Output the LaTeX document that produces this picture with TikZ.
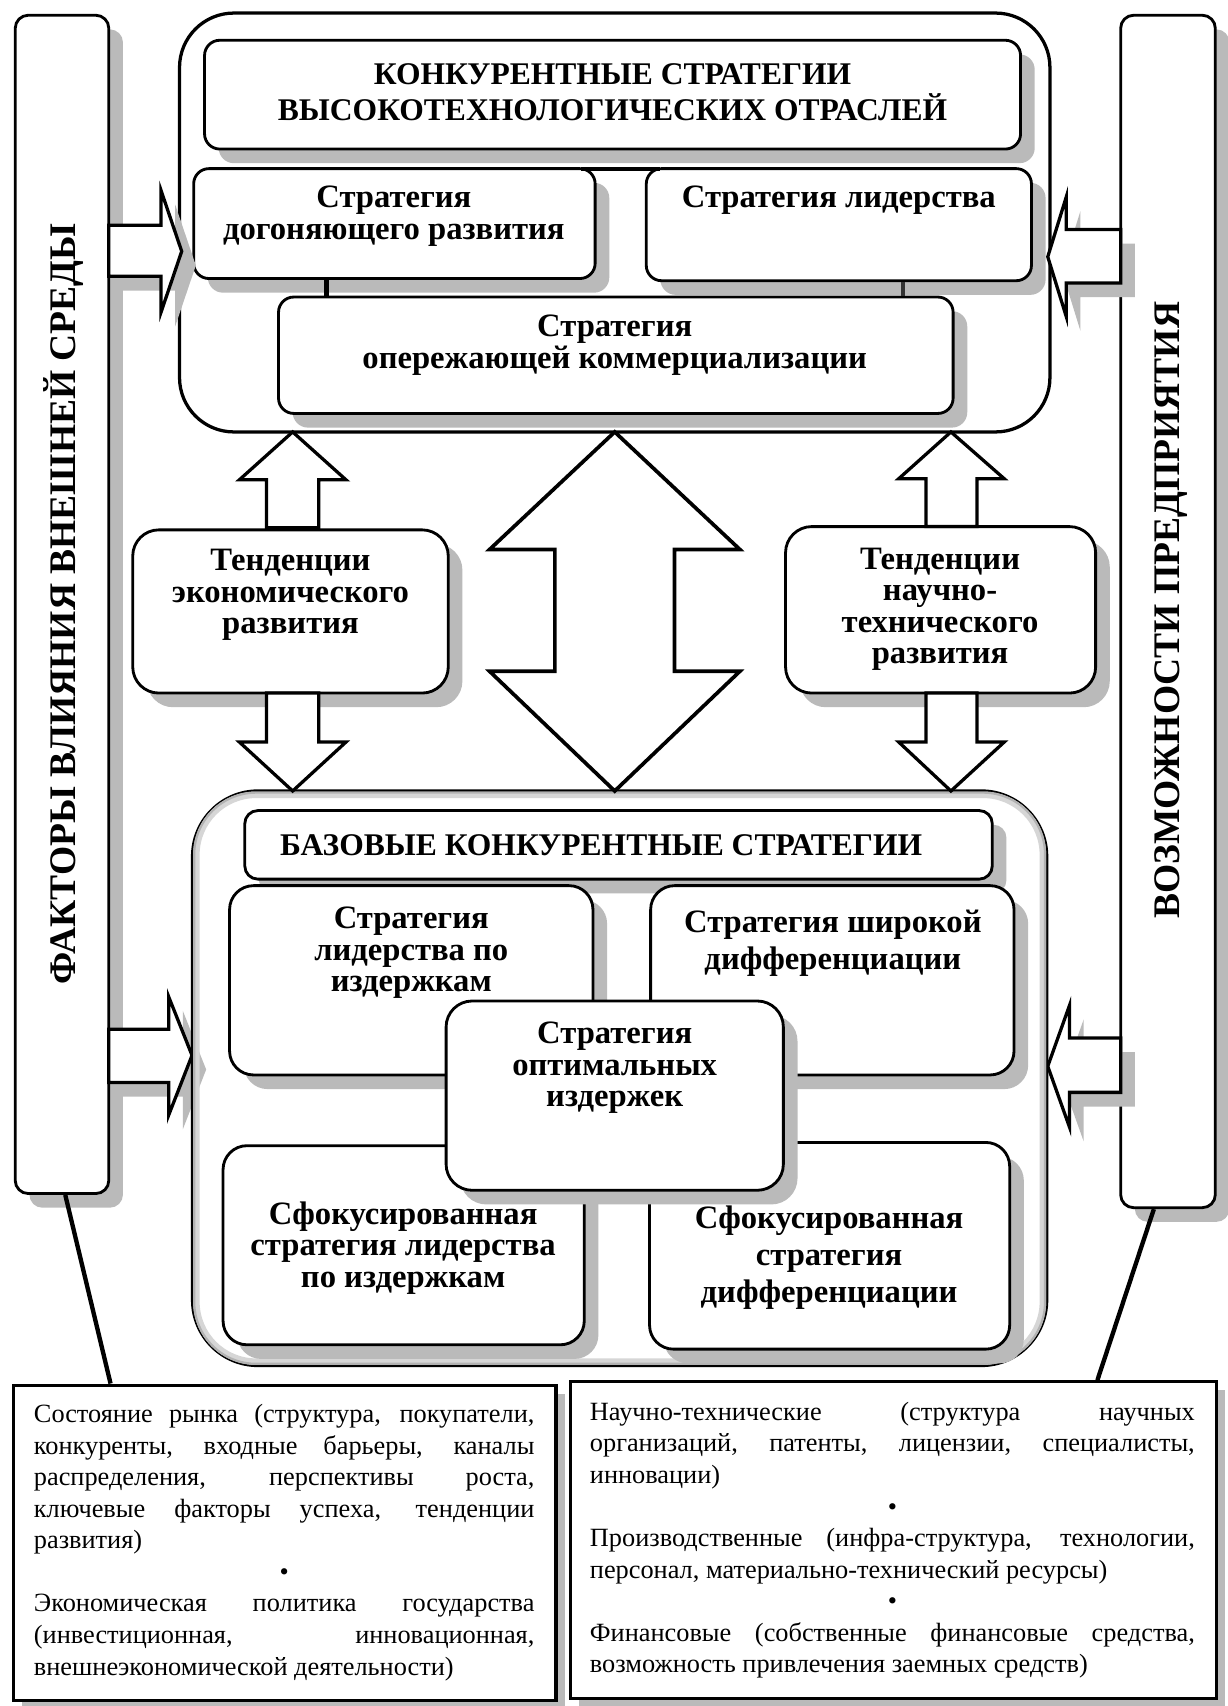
\documentclass[tikz,border=0pt]{standalone}
\usepackage{fontspec}
\setmainfont{Liberation Serif}
\usetikzlibrary{shadows,calc}
\newlength{\txw}
\newcommand{\sline}[1]{\makebox[\txw][s]{#1}\par}
\newcommand{\lline}[1]{\makebox[\txw][l]{#1}\par}
\newcommand{\bline}{\makebox[\txw][c]{•}\par}
\begin{document}
\begin{tikzpicture}[x=1pt,y=-1pt,
  shd/.style={drop shadow={shadow xshift=13pt,shadow yshift=-13pt,fill=black!27,opacity=1}},
  tshd/.style={drop shadow={shadow xshift=8pt,shadow yshift=-8pt,fill=black!27,opacity=1}},
  rbox/.style={draw,line width=2.6pt,fill=white,rounded corners=#1,shd,inner sep=0pt},
  rbox/.default=14pt,
  tbox/.style={draw,line width=2.8pt,fill=white,tshd,inner sep=0pt},
  barrow/.style={draw,fill=white,line width=3pt,line join=miter},
  conn/.style={line width=4pt},
  btxt/.style={font=\fontsize{30}{29}\selectfont\bfseries,align=center,inner sep=0pt},
  wtxt/.style={font=\fontsize{30}{34}\selectfont\bfseries,align=center,inner sep=0pt},
  ttxt/.style={font=\fontsize{29}{33}\selectfont\bfseries,align=center,inner sep=0pt},
  rtxt/.style={font=\fontsize{34.5}{36}\selectfont\bfseries,rotate=90,inner sep=0pt},
  body/.style={font=\fontsize{24.2}{29}\selectfont,inner sep=0pt,anchor=base west}
]
\useasboundingbox[fill=white] (0,0) rectangle (1128,1568);

% side bars
\node[rbox=12pt,minimum width=86pt,minimum height=1083pt] (lbar) at (57,555.5) {};
\node[rbox=12pt,minimum width=87pt,minimum height=1096pt] (rbar) at (1073.5,562) {};
\node[rtxt] (lbart) at (58,555) {ФАКТОРЫ ВЛИЯНИЯ ВНЕШНЕЙ СРЕДЫ};
\node[rtxt] (rbart) at (1076,561) {ВОЗМОЖНОСТИ ПРЕДПРИЯТИЯ};

% top group
\node[draw,line width=3pt,rounded corners=50pt,minimum width=800pt,minimum height=385pt,inner sep=0pt] (otop) at (565,204.5) {};
\node[rbox,minimum width=750pt,minimum height=100pt] (title) at (563,87) {};
\node[ttxt] (titlet) at (563,84.5) {КОНКУРЕНТНЫЕ СТРАТЕГИИ\\ВЫСОКОТЕХНОЛОГИЧЕСКИХ ОТРАСЛЕЙ};
\node[rbox,minimum width=369pt,minimum height=101pt] (b5) at (362.5,205.5) {};
\node[rbox,minimum width=354pt,minimum height=103pt] (b6) at (771,206.5) {};
\node[btxt] (b5t) at (362,198.5) {Стратегия\\догоняющего развития};
\node[btxt] (b6t) at (771,184) {Стратегия лидерства};
\draw[conn] ($(b5.north east)+(-14,1.5)$) -- ($(b6.north west)+(14,1.5)$);
\node[rbox,minimum width=620pt,minimum height=107pt] (b7) at (566,326.5) {};
\node[btxt] (b7t) at (565,317) {Стратегия\\опережающей коммерциализации};
\draw[conn] ($(b5.south)+(-62.5,0)$) -- ($(b7.north)+(-266,0)$);
\draw[conn,black!80] ($(b6.south)+(59,0)$) -- ($(b7.north)+(264,0)$);

% side arrows
\draw[barrow,shd] (100,207) -- (148,207) -- (148,175) -- (167,231) -- (148,287) -- (148,254) -- (100,254) -- cycle;
\draw[barrow,shd] (100,946) -- (155,946) -- (155,916) -- (176.5,970) -- (155,1025) -- (155,995) -- (100,995) -- cycle;
\draw[barrow,shd] (1030,211) -- (980,211) -- (980,181) -- (963,236) -- (980,291) -- (980,260) -- (1030,260) -- cycle;
\draw[barrow,shd] (1030,954) -- (983,954) -- (983,924) -- (963,980) -- (983,1036) -- (983,1004) -- (1030,1004) -- cycle;

% tendency boxes
\node[rbox=24pt,minimum width=290pt,minimum height=150pt] (tenE) at (267,562) {};
\node[btxt] (tenEt) at (267,547) {Тенденции\\экономического\\развития};
\node[rbox=24pt,minimum width=285pt,minimum height=153pt] (tenN) at (864.5,560.5) {};
\node[btxt] (tenNt) at (864,560) {Тенденции\\научно-\\технического\\развития};

% bottom group
\node[draw,line width=3pt,rounded corners=60pt,minimum width=785pt,minimum height=528pt,inner sep=0pt] (obot) at (569.5,991) {};
\draw[black!16,line width=6pt,rounded corners=55pt] ($(obot.north west)+(5,5)$) rectangle ($(obot.south east)+(-5,-5)$);
\draw[black!30,line width=2pt,rounded corners=57pt] ($(obot.north west)+(3,3)$) rectangle ($(obot.south east)+(-3,-3)$);
\node[rbox=12pt,minimum width=687pt,minimum height=63pt] (baz) at (568.5,776.5) {};
\node[ttxt] (bazt) at (552.5,777) {БАЗОВЫЕ КОНКУРЕНТНЫЕ СТРАТЕГИИ};
\node[rbox=22pt,minimum width=334pt,minimum height=174pt] (c1) at (378,901) {};
\node[rbox=22pt,minimum width=334pt,minimum height=174pt] (c2) at (765,901) {};
\node[btxt] (c1t) at (378,876) {Стратегия\\лидерства по\\издержкам};
\node[wtxt] (c2t) at (765.5,867) {Стратегия широкой\\дифференциации};
\node[rbox=22pt,minimum width=332pt,minimum height=183pt] (c4) at (371,1144.5) {};
\node[rbox=22pt,minimum width=331pt,minimum height=190pt] (c5) at (762.5,1145) {};
\node[btxt] (c4t) at (370.5,1147) {Сфокусированная\\стратегия лидерства\\по издержкам};
\node[wtxt] (c5t) at (762,1156) {Сфокусированная\\стратегия\\дифференциации};
\node[rbox=24pt,minimum width=310pt,minimum height=174pt] (c3) at (565,1007) {};
\node[btxt] (c3t) at (565,981.5) {Стратегия\\оптимальных\\издержек};

% vertical block arrows
\draw[barrow] (245,485) -- (245,441) -- (220,441) -- (269,397) -- (318,441) -- (293,441) -- (293,485) -- cycle;
\draw[barrow] (245,637) -- (245,682) -- (220,682) -- (269,727) -- (318,682) -- (293,682) -- (293,637) -- cycle;
\draw[barrow] (851,484) -- (851,440) -- (826,440) -- (874,397) -- (923,440) -- (898,440) -- (898,484) -- cycle;
\draw[barrow] (851,637) -- (851,682) -- (826,682) -- (874,727) -- (923,682) -- (898,682) -- (898,637) -- cycle;
\draw[barrow,line width=3.4pt] (565,397) -- (680,505) -- (620,505) -- (620,617) -- (680,617) -- (565,727) -- (450,617) -- (510,617) -- (510,505) -- (450,505) -- cycle;

% bottom text boxes
\node[tbox,minimum width=499pt,minimum height=290pt] (lbox) at (261.5,1418) {};
\node[tbox,minimum width=594pt,minimum height=291pt] (rbox) at (821,1415.5) {};
\draw[conn] ($(lbar.south)+(3,0)$) -- ($(lbox.north west)+(91,0)$);
\draw[conn] ($(rbar.south)+(-13,0)$) -- ($(rbox.north west)+(486,0)$);

\node[body] (ltx) at (31,1307.5) {\parbox[t]{460pt}{\setlength{\txw}{460pt}\setlength{\parindent}{0pt}\setlength{\parskip}{0pt}\setlength{\lineskiplimit}{-50pt}%
\sline{Состояние рынка (структура, покупатели,}%
\sline{конкуренты, входные барьеры, каналы}%
\sline{распределения, перспективы роста,}%
\sline{ключевые факторы успеха, тенденции}%
\lline{развития)}%
\bline
\sline{Экономическая политика государства}%
\sline{(инвестиционная, инновационная,}%
\lline{внешнеэкономической деятельности)}}};

\node[body] (rtx) at (542,1305.5) {\parbox[t]{556pt}{\setlength{\txw}{556pt}\setlength{\parindent}{0pt}\setlength{\parskip}{0pt}\setlength{\lineskiplimit}{-50pt}%
\sline{Научно-технические (структура научных}%
\sline{организаций, патенты, лицензии, специалисты,}%
\lline{инновации)}%
\bline
\sline{Производственные (инфра-структура, технологии,}%
\lline{персонал, материально-технический ресурсы)}%
\bline
\sline{Финансовые (собственные финансовые средства,}%
\lline{возможность привлечения заемных средств)}}};
\end{tikzpicture}
\end{document}
